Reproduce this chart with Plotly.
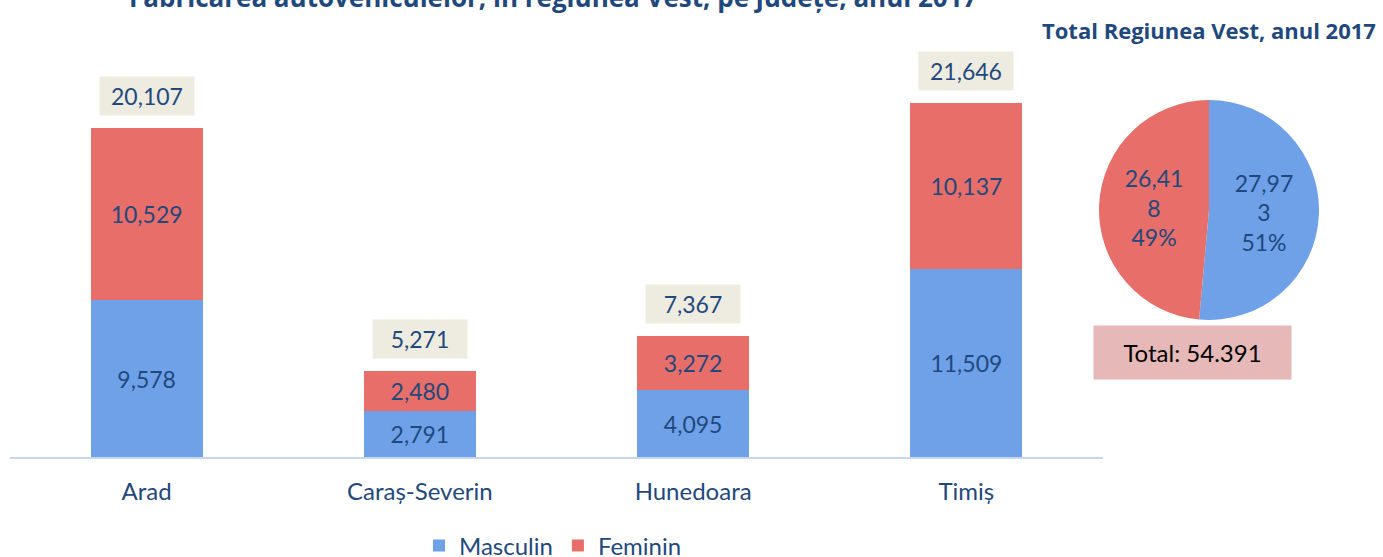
import plotly.graph_objects as go

categories = ["Arad", "Caraș-Severin", "Hunedoara", "Timiș"]
masculin = [9578, 2791, 4095, 11509]
feminin = [10529, 2480, 3272, 10137]
totals = [20107, 5271, 7367, 21646]
pie_labels = ["Masculin", "Feminin"]
pie_values = [27973, 26418]

title_main = "Fabricarea autovehiculelor, în regiunea Vest, pe județe, anul 2017"
title_pie = "Total Regiunea Vest, anul 2017"

DARK = "#1F497D"
FONT = "Lato, 'Open Sans', sans-serif"
W, H = 1383, 557

def fy(py):
    """paper fraction for a vertical position given in pixels from the top"""
    return 1 - py / H

fig = go.Figure()
fig.add_trace(go.Bar(
    x=categories, y=masculin, name="Masculin",
    marker=dict(color="#6EA1E7", line=dict(width=0)),
    texttemplate="%{y:,}", textposition="inside", insidetextanchor="middle",
    textfont=dict(color=DARK, size=23, family=FONT),
    width=0.41,
))
fig.add_trace(go.Bar(
    x=categories, y=feminin, name="Feminin",
    marker=dict(color="#E76E69", line=dict(width=0)),
    texttemplate="%{y:,}", textposition="inside", insidetextanchor="middle",
    textfont=dict(color=DARK, size=23, family=FONT),
    width=0.41,
))

def wrap_num(v):
    s = f"{v:,}"
    return s[:-1] + "<br>" + s[-1]

fig.add_trace(go.Pie(
    labels=pie_labels, values=pie_values,
    text=[wrap_num(v) for v in pie_values],
    texttemplate="%{text}<br>%{percent:.0%}",
    textposition="inside", insidetextorientation="horizontal",
    textfont=dict(color=DARK, size=23, family=FONT),
    marker=dict(colors=["#6EA1E7", "#E76E69"], line=dict(width=0)),
    direction="clockwise", rotation=0, sort=False,
    domain=dict(x=[1059 / W, 1359 / W], y=[fy(320), fy(100)]),
    showlegend=False, hole=0,
))

annotations = []
for c, t in zip(categories, totals):
    annotations.append(dict(
        x=c, y=t, xref="x", yref="y", text=f"{t:,}", showarrow=False,
        yshift=32, bgcolor="#EEECE1", width=92, height=36,
        font=dict(color=DARK, size=23, family=FONT),
    ))

annotations.append(dict(
    x=553 / W, y=1.0, xref="paper", yref="paper", text=f"<b>{title_main}</b>",
    showarrow=False, yanchor="middle", xanchor="center", yshift=3,
    font=dict(color=DARK, size=26, family="'Open Sans', sans-serif"),
))
annotations.append(dict(
    x=1378 / W, y=fy(30), xref="paper", yref="paper", text=f"<b>{title_pie}</b>",
    showarrow=False, yanchor="middle", xanchor="right",
    font=dict(color=DARK, size=22, family="'Open Sans', sans-serif"),
))
grand_total = sum(pie_values)
annotations.append(dict(
    x=1192 / W, y=fy(352), xref="paper", yref="paper",
    xanchor="center", yanchor="middle",
    text="Total: " + f"{grand_total:,}".replace(",", "."),
    showarrow=False, bgcolor="#E6B9B8", width=195, height=51,
    font=dict(color="black", size=24, family=FONT),
))

fig.update_layout(
    width=W, height=H,
    margin=dict(l=0, r=0, t=0, b=0, autoexpand=False),
    paper_bgcolor="white", plot_bgcolor="white",
    barmode="stack", bargap=0.59,
    font=dict(family=FONT, color=DARK, size=20),
    xaxis=dict(domain=[10 / W, 1103 / W], range=[-0.5, 3.5],
               showline=True, linecolor="#C6D7EE", linewidth=2,
               showgrid=False, ticks="", ticklabelstandoff=12,
               tickfont=dict(size=24, color=DARK, family=FONT)),
    yaxis=dict(domain=[fy(457), fy(48)], range=[0, 25000],
               visible=False, showgrid=False),
    legend=dict(orientation="h", x=553 / W, xanchor="center", y=fy(546), yanchor="middle",
                font=dict(size=24, color=DARK, family=FONT), traceorder="normal"),
    annotations=annotations,
    showlegend=True,
)

fig.write_html(
    "out.html",
    config={"displayModeBar": False},
    post_script="document.body.style.margin='0';document.body.style.overflow='hidden';",
)
